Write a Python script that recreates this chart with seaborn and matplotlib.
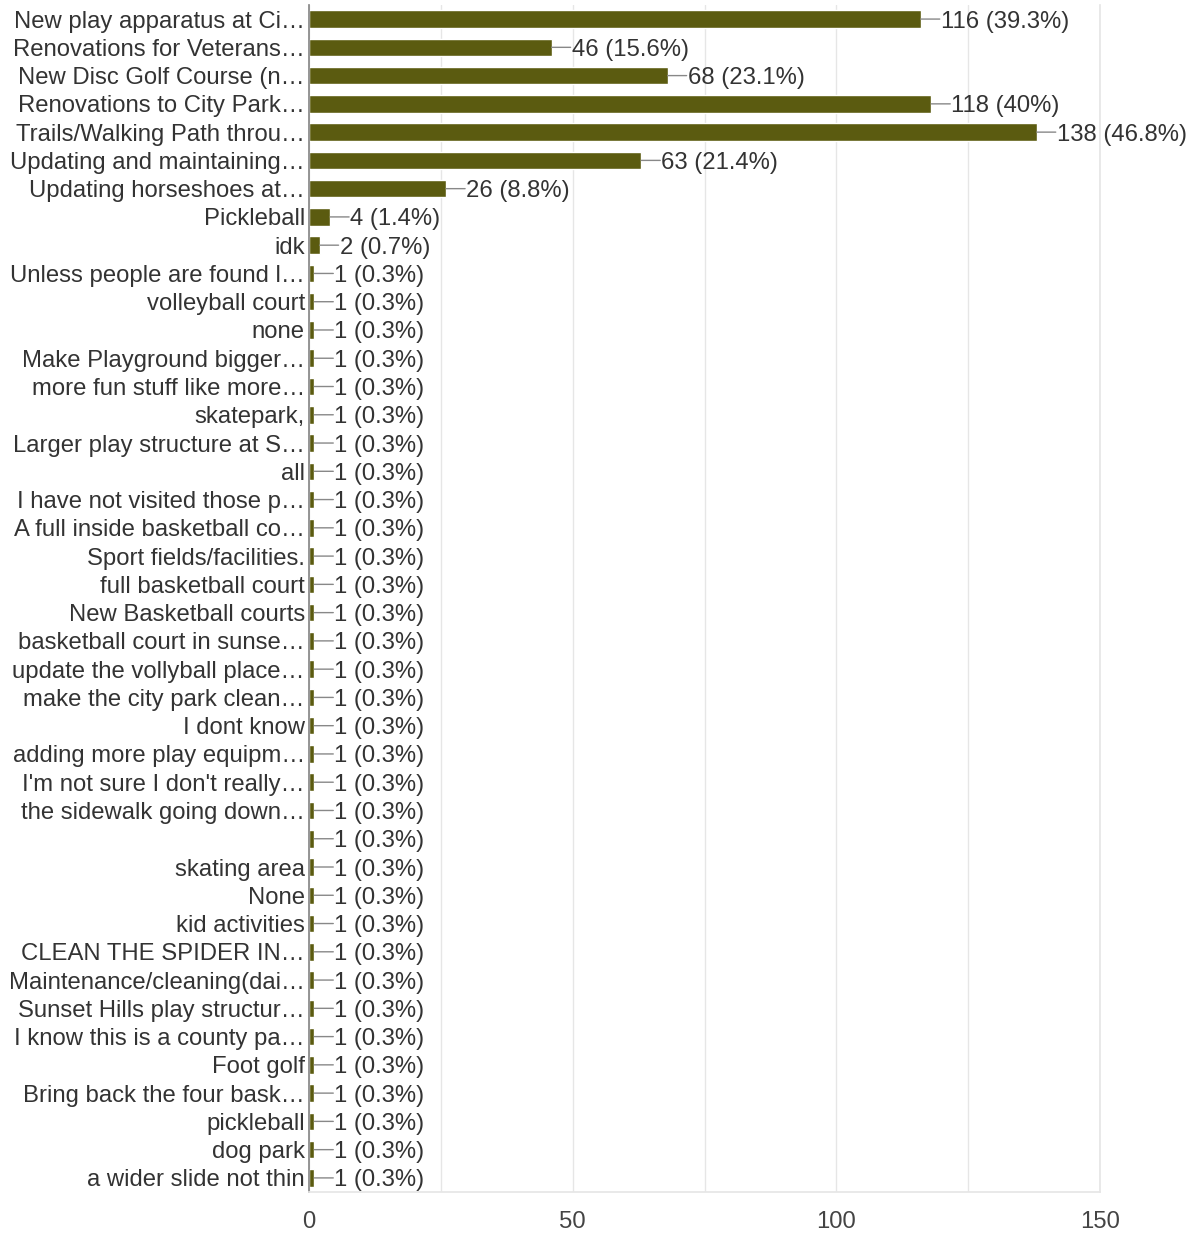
import numpy as np
import pandas as pd
import matplotlib
matplotlib.use('Agg')
import matplotlib.pyplot as plt
import seaborn as sns
from matplotlib.ticker import MultipleLocator

sns.set_theme(style='white')
plt.rcParams['font.family'] = ['Liberation Sans', 'DejaVu Sans']

# Responses (truncated as shown in the chart)
labels = [
    'New play apparatus at Ci\u2026', 'Renovations for Veterans\u2026',
    'New Disc Golf Course (n\u2026', 'Renovations to City Park\u2026',
    'Trails/Walking Path throu\u2026', 'Updating and maintaining\u2026',
    'Updating horseshoes at\u2026', 'Pickleball', 'idk',
    'Unless people are found l\u2026', 'volleyball court', 'none',
    'Make Playground bigger\u2026', 'more fun stuff like more\u2026', 'skatepark,',
    'Larger play structure at S\u2026', 'all', 'I have not visited those p\u2026',
    'A full inside basketball co\u2026', 'Sport fields/facilities.',
    'full basketball court', 'New Basketball courts',
    'basketball court in sunse\u2026', 'update the vollyball place\u2026',
    'make the city park clean\u2026', 'I dont know', 'adding more play equipm\u2026',
    "I'm not sure I don't really\u2026", 'the sidewalk going down\u2026', '',
    'skating area', 'None', 'kid activities', 'CLEAN THE SPIDER IN\u2026',
    'Maintenance/cleaning(dai\u2026', 'Sunset Hills play structur\u2026',
    'I know this is a county pa\u2026', 'Foot golf', 'Bring back the four bask\u2026',
    'pickleball', 'dog park', 'a wider slide not thin',
]
counts = [116, 46, 68, 118, 138, 63, 26, 4, 2] + [1] * 33
pcts = ['39.3%', '15.6%', '23.1%', '40%', '46.8%', '21.4%', '8.8%', '1.4%', '0.7%'] + ['0.3%'] * 33

df = pd.DataFrame({'label': labels, 'count': counts})

fig = plt.figure(figsize=(11.94, 12.34), dpi=100)
ax = fig.add_axes([0.2588, 0.034, 0.9213 - 0.2588, 0.962])

sns.barplot(data=df, x='count', y='label', order=labels, color='#5b5b10',
            saturation=1, width=0.62, ax=ax)

for i, (c, p) in enumerate(zip(counts, pcts)):
    # leader line, then the value text
    ax.annotate('', xy=(c, i), xytext=(19, 0), textcoords='offset pixels',
                arrowprops=dict(arrowstyle='-', color='#888888', lw=1,
                                shrinkA=0, shrinkB=0))
    ax.annotate(f'{c} ({p})', xy=(c, i), xytext=(20, 0), textcoords='offset pixels',
                va='center_baseline', ha='left', fontsize=17.2, color='#333333')

ax.set_xlim(0, 150)
ax.set_ylim(len(labels) - 0.5, -0.5)
ax.xaxis.set_major_locator(MultipleLocator(50))
ax.xaxis.set_minor_locator(MultipleLocator(25))
ax.grid(axis='x', which='both', color='#e6e6e6', lw=1)
ax.set_axisbelow(True)
ax.set_xlabel('')
ax.set_ylabel('')
ax.tick_params(axis='x', labelsize=17.2, labelcolor='#444444', pad=14, length=0)
ax.tick_params(axis='y', labelsize=17.2, labelcolor='#333333', pad=3, length=0)
for t in ax.get_yticklabels():
    t.set_verticalalignment('center_baseline')

ax.spines['top'].set_visible(False)
ax.spines['left'].set_color('#888888')
ax.spines['bottom'].set_color('#e6e6e6')
ax.spines['right'].set_color('#e6e6e6')

fig.savefig('out.png', dpi=100)
